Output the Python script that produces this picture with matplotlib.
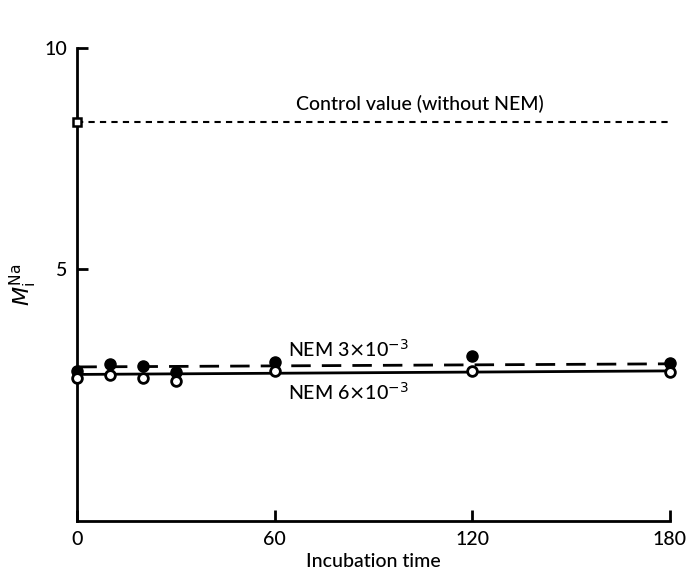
import numpy as np
import matplotlib.pyplot as plt

plt.rcParams['font.family'] = ['Lato', 'DejaVu Sans']

# incubation times (min) and internal Na measurements
times = [0, 10, 20, 30, 60, 120, 180]
nem_3 = [2.69, 2.85, 2.81, 2.67, 2.90, 3.03, 2.87]
nem_6 = [2.53, 2.60, 2.53, 2.47, 2.69, 2.69, 2.67]

# fitted lines, value at start and end of the run
fit_span = [0, 180]
fit_3 = [2.79, 2.86]
fit_6 = [2.62, 2.70]

control = 8.33

fig = plt.figure(figsize=(6.91, 5.74), dpi=100)
ax = fig.add_axes([0.112, 0.092, 0.857, 0.824])

ax.plot([0, 181], [control, control], ls=(0, (3, 2.5)), lw=1.5, color='black')
ax.plot([0], [control], marker='s', ms=6, mfc='white', mec='black', mew=1.8,
        ls='none', clip_on=False, zorder=5)

ax.plot(fit_span, fit_3, ls=(0, (7, 4)), lw=2, color='black')
ax.plot(fit_span, fit_6, ls='-', lw=2, color='black')

ax.plot(times, nem_3, 'o', ms=8, mfc='black', mec='black', clip_on=False, zorder=5)
ax.plot(times, nem_6, 'o', ms=7, mfc='white', mec='black', mew=2,
        clip_on=False, zorder=6)

txt = dict(ha='center', va='center', fontsize=14, fontweight='medium')
ax.text(104, 8.73, 'Control value (without NEM)', **txt)
ax.text(82.5, 3.21, r'NEM 3$\times$10$^{-3}$', **txt)
ax.text(82.5, 2.22, r'NEM 6$\times$10$^{-3}$', **txt)

ax.set_xlim(0, 180)
ax.set_ylim(-0.7, 10)
ax.set_xticks([0, 60, 120, 180])
ax.set_yticks([5, 10])
ax.spines['top'].set_visible(False)
ax.spines['right'].set_visible(False)
for s in ['left', 'bottom']:
    ax.spines[s].set_linewidth(2)
ax.tick_params(direction='in', length=8, width=2, labelsize=14, pad=7)
for lab in ax.get_xticklabels() + ax.get_yticklabels():
    lab.set_fontweight('medium')

ax.set_xlabel('Incubation time', fontsize=14, fontweight='medium', labelpad=4)
ax.set_ylabel(r'$M_{\mathrm{i}}^{\mathrm{Na}}$', fontsize=16, labelpad=4)

fig.savefig('out.png', dpi=100)
